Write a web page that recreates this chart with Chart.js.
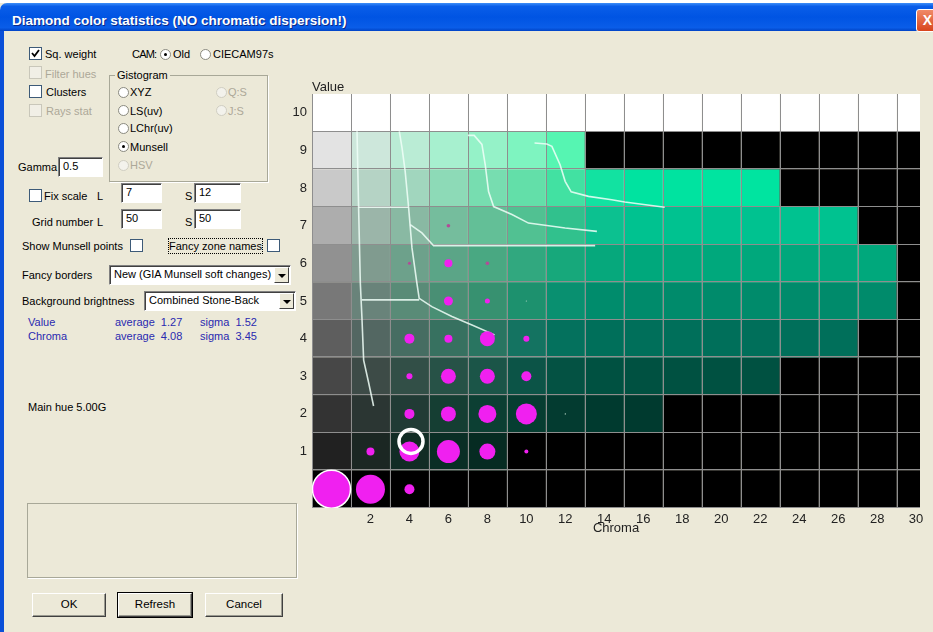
<!DOCTYPE html>
<html>
<head>
<meta charset="utf-8">
<script src="https://cdn.jsdelivr.net/npm/chart.js@4.4.1/dist/chart.umd.min.js"></script>
<style>
  html, body { margin: 0; padding: 0; background: #fff; overflow: hidden; }
  #win { position: absolute; left: 0; top: 3px; width: 945px; height: 640px; background: #ece9d8; }
  #titlebar { position: absolute; left: 0; top: 0; width: 945px; height: 28px;
    background: linear-gradient(#3d8ef8 0%, #0a5ee9 12%, #0054e3 50%, #0a5de8 88%, #0043c6 100%);
    border-radius: 7px 7px 0 0; }
  #titletext { position: absolute; left: 12px; top: 10px; font: bold 13.5px "Liberation Sans", Arial, sans-serif;
    color: #fff; text-shadow: 1px 1px 0 #0a2a8a; white-space: nowrap; }
  #closebtn { position: absolute; left: 916px; top: 6px; width: 21px; height: 21px; border: 1px solid #fff;
    border-radius: 3px; background: linear-gradient(#f08a68, #d8451d); color: #fff;
    font: bold 14px "Liberation Sans", Arial, sans-serif; text-align: center; line-height: 21px; }
  #lborder { position: absolute; left: 0; top: 28px; width: 4px; height: 620px; background: #0a4fd8; }
  .t { position: absolute; font: 11px "Liberation Sans", Arial, sans-serif; line-height: 14px; color: #000; white-space: nowrap; }
  .dis { color: #aca899; }
  .blue { color: #2a2ab0; }
  .cb { position: absolute; width: 11px; height: 11px; background: #fff; border: 1px solid #3d5a78; }
  .cb.off { background: #f1efe6; border-color: #c9c7ba; }
  .rb { position: absolute; width: 11px; height: 11px; border-radius: 50%; background: #fff; border: 1px solid #8a8a80; box-sizing: border-box; }
  .rb.off { background: #f3f2ec; border-color: #d0cec2; }
  .rb.on::after { content: ""; position: absolute; left: 3px; top: 3px; width: 3px; height: 3px; border-radius: 50%; background: #000; }
  .tb { position: absolute; background: #fff; box-sizing: border-box; border-style: solid; border-width: 1px;
    border-color: #808080 #fff #fff #808080; box-shadow: inset 1px 1px 0 #404040;
    font: 11px "Liberation Sans", Arial, sans-serif; line-height: 17px; padding-left: 4px; white-space: nowrap; overflow: hidden; }
  .arrow { position: absolute; top: 1px; right: 1px; bottom: 1px; width: 15px; background: #ece9d8; box-sizing: border-box;
    border-style: solid; border-width: 1px; border-color: #fff #404040 #404040 #fff; }
  .arrow::after { content: ""; position: absolute; left: 3px; top: 6px; border-left: 4px solid transparent;
    border-right: 4px solid transparent; border-top: 4px solid #000; }
  .grp { position: absolute; border: 1px solid #a8a898; box-shadow: 1px 1px 0 #fff; }
  .btn { position: absolute; box-sizing: border-box; background: #ece9d8; border-style: solid; border-width: 1px;
    border-color: #fff #404040 #404040 #fff; box-shadow: inset -1px -1px 0 #9a9a90;
    font: 11.5px "Liberation Sans", Arial, sans-serif; text-align: center; line-height: 21px; }
  .btn.def { outline: 1px solid #000; }
  #chartbox { position: absolute; left: 280px; top: 67px; width: 650px; height: 475px; }
</style>
</head>
<body>
<div id="win">
  <div id="titlebar"><div id="titletext">Diamond color statistics (NO chromatic dispersion!)</div></div>
  <div id="closebtn">X</div>
  <div id="lborder"></div>

  <!-- left column of options -->
  <div class="cb" style="left:29px;top:44px"><svg width="11" height="11" style="position:absolute;left:0;top:0"><path d="M2 5 L4.5 8 L9 2" stroke="#000" stroke-width="1.8" fill="none"/></svg></div>
  <div class="t" style="left:45px;top:44px">Sq. weight</div>
  <div class="cb off" style="left:29px;top:63px"></div>
  <div class="t dis" style="left:45px;top:64px">Filter hues</div>
  <div class="cb" style="left:29px;top:82px"></div>
  <div class="t" style="left:46px;top:82px">Clusters</div>
  <div class="cb off" style="left:29px;top:101px"></div>
  <div class="t dis" style="left:46px;top:101px">Rays stat</div>

  <div class="t" style="left:132px;top:44px;letter-spacing:-0.8px">CAM:</div>
  <div class="rb on" style="left:160px;top:46px"></div>
  <div class="t" style="left:173px;top:44px">Old</div>
  <div class="rb" style="left:200px;top:46px"></div>
  <div class="t" style="left:213px;top:44px">CIECAM97s</div>

  <div class="grp" style="left:109px;top:72px;width:157px;height:105px"></div>
  <div class="t" style="left:115px;top:65px;background:#ece9d8;padding:0 2px">Gistogram</div>
  <div class="rb" style="left:118px;top:84px"></div>
  <div class="t" style="left:130px;top:82px">XYZ</div>
  <div class="rb" style="left:118px;top:102px"></div>
  <div class="t" style="left:130px;top:101px">LS(uv)</div>
  <div class="rb" style="left:118px;top:120px"></div>
  <div class="t" style="left:130px;top:118px">LChr(uv)</div>
  <div class="rb on" style="left:118px;top:138px"></div>
  <div class="t" style="left:130px;top:137px">Munsell</div>
  <div class="rb off" style="left:118px;top:157px"></div>
  <div class="t dis" style="left:130px;top:155px">HSV</div>
  <div class="rb off" style="left:216px;top:84px"></div>
  <div class="t dis" style="left:228px;top:82px">Q:S</div>
  <div class="rb off" style="left:216px;top:102px"></div>
  <div class="t dis" style="left:228px;top:101px">J:S</div>

  <div class="t" style="left:18px;top:157px">Gamma</div>
  <div class="tb" style="left:58px;top:154px;width:45px;height:20px">0.5</div>

  <div class="cb" style="left:29px;top:186px"></div>
  <div class="t" style="left:44px;top:186px">Fix scale</div>
  <div class="t" style="left:97px;top:186px">L</div>
  <div class="tb" style="left:121px;top:180px;width:41px;height:20px">7</div>
  <div class="t" style="left:185px;top:186px">S</div>
  <div class="tb" style="left:194px;top:180px;width:47px;height:20px">12</div>

  <div class="t" style="left:32px;top:212px">Grid number</div>
  <div class="t" style="left:97px;top:212px">L</div>
  <div class="tb" style="left:121px;top:206px;width:41px;height:20px">50</div>
  <div class="t" style="left:185px;top:212px">S</div>
  <div class="tb" style="left:194px;top:206px;width:47px;height:20px">50</div>

  <div class="t" style="left:22px;top:236px">Show Munsell points</div>
  <div class="cb" style="left:130px;top:236px"></div>
  <div class="t" style="left:169px;top:236px;outline:1px dotted #000">Fancy zone names</div>
  <div class="cb" style="left:267px;top:236px"></div>

  <div class="t" style="left:22px;top:265px">Fancy borders</div>
  <div class="tb" style="left:109px;top:262px;width:182px;height:20px">New (GIA Munsell soft changes)<div class="arrow"></div></div>
  <div class="t" style="left:22px;top:291px">Background brightness</div>
  <div class="tb" style="left:144px;top:288px;width:152px;height:20px">Combined Stone-Back<div class="arrow"></div></div>

  <div class="t blue" style="left:28px;top:312px">Value</div>
  <div class="t blue" style="left:115px;top:312px">average&nbsp; 1.27</div>
  <div class="t blue" style="left:200px;top:312px">sigma&nbsp; 1.52</div>
  <div class="t blue" style="left:28px;top:326px">Chroma</div>
  <div class="t blue" style="left:115px;top:326px">average&nbsp; 4.08</div>
  <div class="t blue" style="left:200px;top:326px">sigma&nbsp; 3.45</div>

  <div class="t" style="left:28px;top:397px">Main hue 5.00G</div>

  <div class="grp" style="left:27px;top:500px;width:268px;height:73px"></div>

  <div class="btn" style="left:32px;top:590px;width:74px;height:24px">OK</div>
  <div class="btn def" style="left:118px;top:590px;width:74px;height:24px">Refresh</div>
  <div class="btn" style="left:205px;top:590px;width:78px;height:24px">Cancel</div>

  <div id="chartbox"><canvas id="g1" width="650" height="475"></canvas></div>
</div>

<script>
// Eixos
const chromaTicks = [2, 4, 6, 8, 10, 12, 14, 16, 18, 20, 22, 24, 26, 28, 30];
const valueTicks = [1, 2, 3, 4, 5, 6, 7, 8, 9, 10];
const chromaCols = [0, 2, 4, 6, 8, 10, 12, 14, 16, 18, 20, 22, 24, 26, 28, 30];

// Cores de fundo de cada célula (uma lista por Value, de chroma 0 a 30)
const K = '#000000';
const rowV0 = [K, K, K, K, K, K, K, K, K, K, K, K, K, K, K, K];
const rowV1 = ['#212121', '#1b2723', '#122c25', '#0a2e25', '#062b22', K, K, K, K, K, K, K, K, K, K, K];
const rowV2 = ['#333333', '#2b3633', '#213b35', '#153e33', '#0c3f33', '#063d31', '#033b30', '#003a2f', '#003a2f', K, K, K, K, K, K, K];
const rowV3 = ['#474747', '#3d4b47', '#324f47', '#275247', '#1b5548', '#0c5447', '#045243', '#005141', '#005141', '#005141', '#005141', '#005141', K, K, K, K];
const rowV4 = ['#5e5e5e', '#536762', '#466d62', '#377160', '#297561', '#147361', '#04715d', '#006f5a', '#006f5a', '#006f5a', '#006f5a', '#006f5a', '#006f5a', '#006f5a', K, K];
const rowV5 = ['#787878', '#69837a', '#598b77', '#498f74', '#379170', '#1d916e', '#099070', '#008c6c', '#008b6b', '#008b6b', '#008b6b', '#008b6b', '#008b6b', '#008b6b', '#008b6b', K];
const rowV6 = ['#919191', '#809b8f', '#6da18b', '#5ba587', '#49a882', '#31a87f', '#17a87b', '#06a87c', '#00a87c', '#00a87c', '#00a87c', '#00a87c', '#00a87c', '#00a87c', '#00a87c', K];
const rowV7 = ['#adadad', '#9bb5a9', '#89b9a3', '#75bd9d', '#63bf97', '#51c192', '#31c18d', '#0cc190', '#00c290', '#00c290', '#00c290', '#00c290', '#00c290', '#00c290', K, K];
const rowV8 = ['#c9c9c9', '#b5d3c5', '#a1d6be', '#8ddab7', '#77ddb0', '#63dfa9', '#42e1a2', '#12e2a1', '#00e3a0', '#00e3a0', '#00e4a0', '#00e4a0', K, K, K, K];
const rowV9 = ['#e3e3e3', '#cde7db', '#baecd5', '#a7f0cf', '#95f2c8', '#7ef4c0', '#56f5b2', K, K, K, K, K, K, K, K, K];
const rowV10 = Array(16).fill('#ffffff');
const cellRows = [rowV0, rowV1, rowV2, rowV3, rowV4, rowV5, rowV6, rowV7, rowV8, rowV9, rowV10];

// Pontos do histograma
const bubbleChroma = [0, 2, 4, 2, 4, 6, 8, 10, 4, 6, 8, 10, 12, 4, 6, 8, 10, 4, 6, 8, 10, 6, 8, 10, 4, 6, 8, 6];
const bubbleValue  = [0, 0, 0, 1, 1, 1, 1, 1, 2, 2, 2, 2, 2, 3, 3, 3, 3, 4, 4, 4, 4, 5, 5, 5, 6, 6, 6, 7];
const bubbleSize   = [19, 14.5, 5, 4, 10, 11.5, 8, 2, 5, 7.5, 9, 10.5, 0.7, 3, 7.5, 7.5, 5, 5, 4, 7.5, 3, 4.5, 2.5, 0.6, 1.5, 4, 1.8, 1.8];

// Média (círculo branco)
const avgChroma = 4.08;
const avgValue = 1.27;

// Linhas das zonas (chroma, value)
const zoneA  = [[1.31, 9.51], [1.39, 7.52], [1.48, 5.47], [1.56, 4.59], [1.65, 3.43], [1.91, 2.82], [2.16, 2.21]];
const zoneA2 = [[1.39, 7.49], [3.96, 7.49]];
const zoneB  = [[3.48, 9.51], [3.62, 9.07], [3.78, 8.45], [3.96, 7.47], [4.13, 6.41], [4.38, 5.48], [4.50, 5.07], [5.15, 4.85], [6.18, 4.59], [7.21, 4.36], [8.37, 4.10]];
const zoneB2 = [[1.56, 5.03], [4.50, 5.03]];
const zoneB3 = [[4.04, 7.03], [4.64, 6.81], [5.24, 6.47], [13.53, 6.47]];
const zoneC  = [[7.0, 9.40], [7.32, 9.40], [7.72, 9.16], [7.89, 8.62], [8.06, 7.91], [8.32, 7.51], [9.26, 7.30], [10.11, 7.07], [11.99, 6.94], [13.62, 6.85]];
const zoneD  = [[10.42, 9.20], [11.05, 9.17], [11.31, 9.11], [11.73, 8.62], [11.99, 8.18], [12.30, 7.90], [13.19, 7.78], [14.38, 7.69], [15.05, 7.63], [17.1, 7.49]];
const zoneLines = [zoneA, zoneA2, zoneB, zoneB2, zoneB3, zoneC, zoneD];

const tickFont = { family: '"Liberation Sans", Arial, sans-serif', size: 13 };

// Desenha as células coloridas e a grade por trás dos pontos
const cellsPlugin = {
  id: 'cells',
  beforeDatasetsDraw(chart) {
    const { ctx, chartArea: a, scales: { x, y } } = chart;
    ctx.save();
    ctx.beginPath();
    ctx.rect(a.left, a.top, a.right - a.left, a.bottom - a.top);
    ctx.clip();
    cellRows.forEach((row, v) => {
      const y0 = y.getPixelForValue(v + 0.5);
      const y1 = y.getPixelForValue(v - 0.5);
      row.forEach((color, i) => {
        const x0 = x.getPixelForValue(chromaCols[i] - 1);
        const x1 = x.getPixelForValue(chromaCols[i] + 1);
        ctx.fillStyle = color;
        ctx.fillRect(x0, y0, x1 - x0, y1 - y0);
      });
    });
    ctx.strokeStyle = '#8e8e8e';
    ctx.lineWidth = 1;
    ctx.beginPath();
    chromaCols.forEach(c => {
      const px = Math.round(x.getPixelForValue(c - 1)) + 0.5;
      ctx.moveTo(px, a.top);
      ctx.lineTo(px, a.bottom);
    });
    for (let v = 0; v <= 11; v++) {
      const py = Math.round(y.getPixelForValue(v - 0.5)) - 0.5;
      ctx.moveTo(a.left, py);
      ctx.lineTo(a.right, py);
    }
    ctx.stroke();
    ctx.restore();

    ctx.save();
    ctx.fillStyle = '#222';
    ctx.font = '13px "Liberation Sans", Arial, sans-serif';
    ctx.textBaseline = 'middle';
    ctx.fillText('Value', a.left, a.top - 7);
    ctx.restore();
  }
};

const lineSets = zoneLines.map(pts => ({
  type: 'line',
  data: pts.map(p => ({ x: p[0], y: p[1] })),
  borderColor: 'rgba(240,255,248,0.85)',
  borderWidth: 1.6,
  pointRadius: 0,
  tension: 0,
  fill: false,
  order: 3
}));

const bubbles = bubbleChroma.map((c, i) => ({ x: c, y: bubbleValue[i], r: bubbleSize[i] }));

new Chart(document.getElementById('g1').getContext('2d'), {
  type: 'bubble',
  data: {
    datasets: [
      ...lineSets,
      {
        data: bubbles,
        backgroundColor: ctx => {
          const p = ctx.raw;
          if (!p) return '#f020f0';
          if (p.r < 1) return '#b8d8c8';
          if (p.y >= 6 && p.r < 2) return '#b24c98';
          return '#f020f0';
        },
        borderColor: ctx => (ctx.dataIndex === 0 ? '#ffffff' : 'rgba(0,0,0,0)'),
        borderWidth: ctx => (ctx.dataIndex === 0 ? 1.5 : 0),
        order: 2
      },
      {
        data: [{ x: avgChroma, y: avgValue, r: 12 }],
        backgroundColor: 'rgba(0,0,0,0)',
        borderColor: '#ffffff',
        borderWidth: 3.5,
        order: 1
      }
    ]
  },
  options: {
    responsive: false,
    animation: false,
    events: [],
    layout: { autoPadding: false, padding: { left: 0, top: 24, right: 10, bottom: 0 } },
    plugins: { legend: { display: false }, tooltip: { enabled: false } },
    scales: {
      x: {
        type: 'linear',
        min: -1,
        max: 30.2,
        afterBuildTicks: s => { s.ticks = chromaTicks.map(v => ({ value: v })); },
        afterFit: s => { s.height = 37; s.paddingLeft = 0; s.paddingRight = 0; },
        grid: { display: false, drawTicks: false },
        border: { display: false },
        ticks: { font: tickFont, color: '#222', padding: 4, maxRotation: 0, autoSkip: false },
        title: { display: true, text: 'Chroma', font: tickFont, color: '#222', padding: { top: 0, bottom: 9 } }
      },
      y: {
        type: 'linear',
        min: -0.5,
        max: 10.5,
        afterBuildTicks: s => { s.ticks = valueTicks.map(v => ({ value: v })); },
        afterFit: s => { s.width = 32; s.paddingTop = 0; s.paddingBottom = 0; },
        grid: { display: false, drawTicks: false },
        border: { display: false },
        ticks: { font: tickFont, color: '#222', padding: 5, autoSkip: false }
      }
    }
  },
  plugins: [cellsPlugin]
});
</script>
</body>
</html>
